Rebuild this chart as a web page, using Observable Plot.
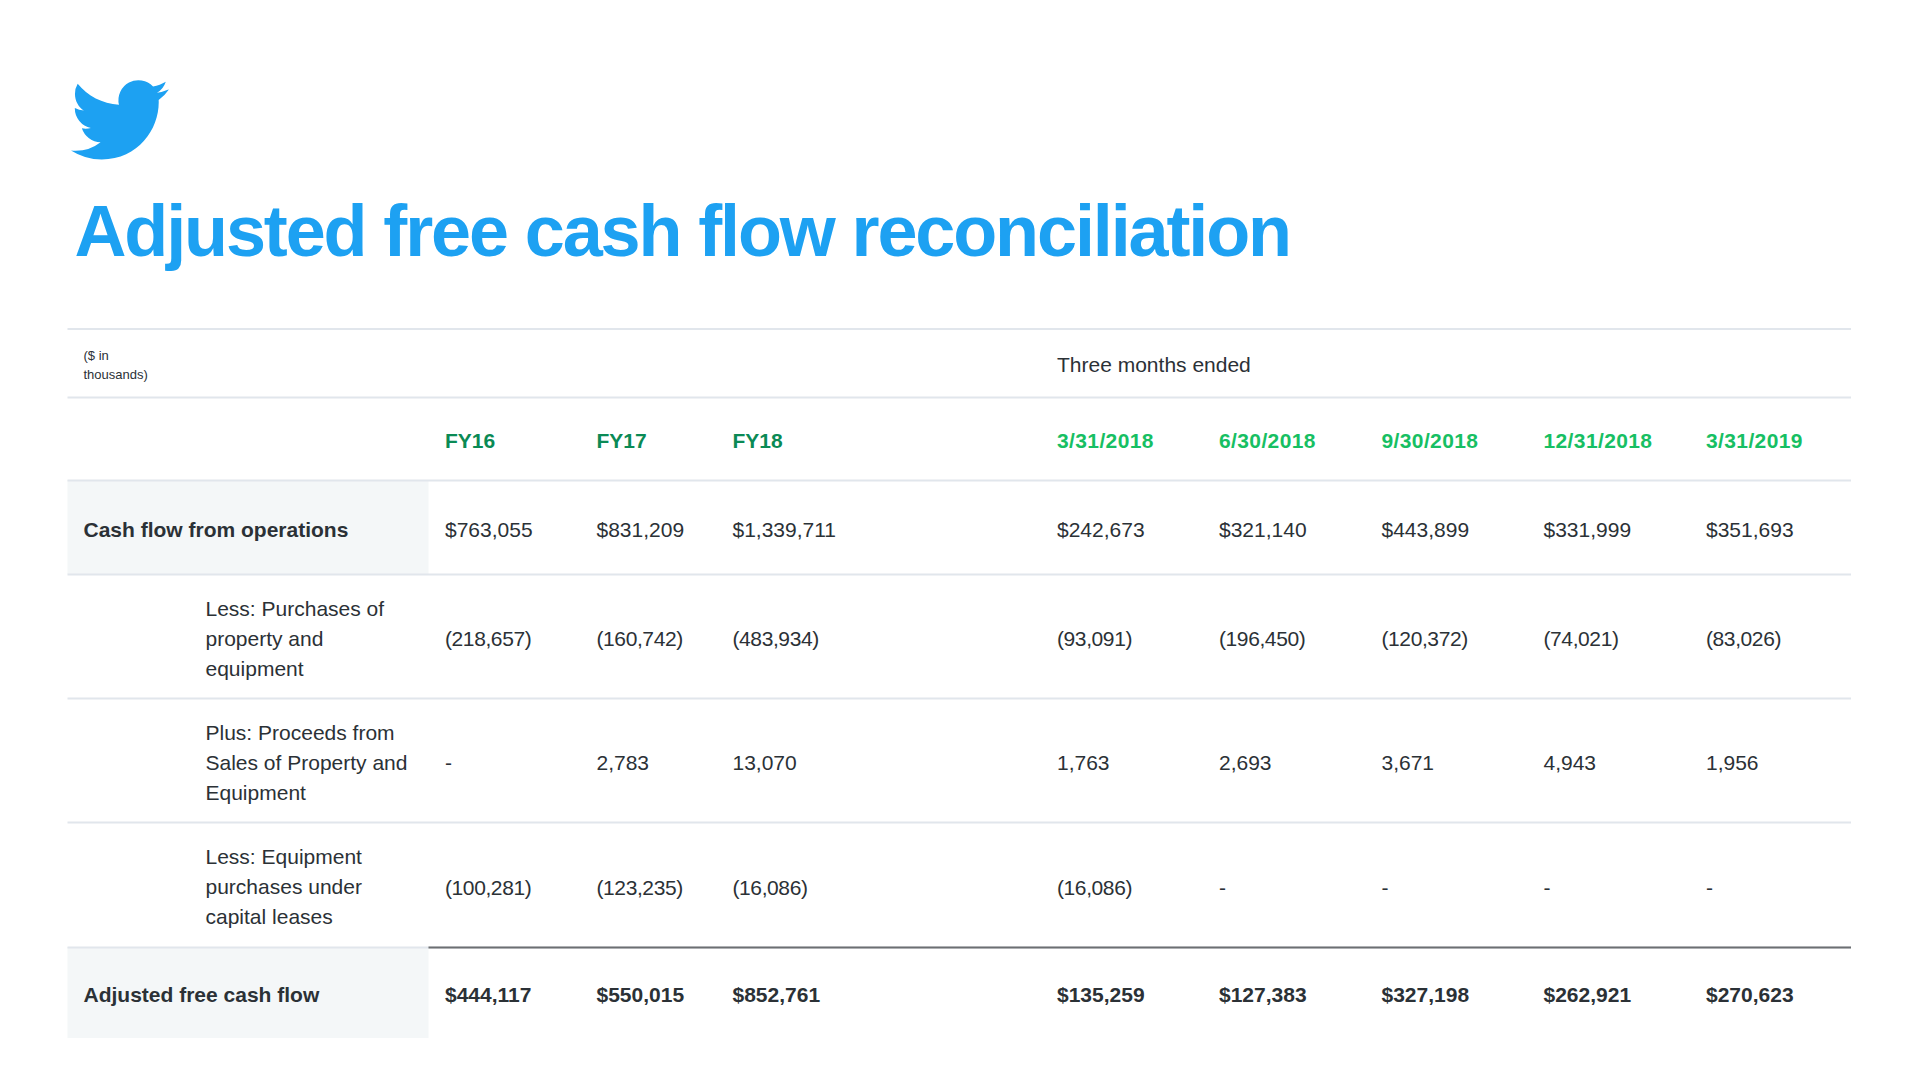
<!DOCTYPE html>
<html>
<head>
<meta charset="utf-8">
<script src="https://cdn.jsdelivr.net/npm/d3@7"></script>
<script src="https://cdn.jsdelivr.net/npm/@observablehq/plot@0.6"></script>
<style>html,body{margin:0;padding:0;background:#fff}svg{display:block}</style>
</head>
<body>
<div id="chart"></div>
<script>
const titleText = "Adjusted free cash flow reconciliation";
const unitsNote = "($ in\nthousands)";
const spanHeader = "Three months ended";
const annualHeaders = ["FY16", "FY17", "FY18"];
const quarterHeaders = ["3/31/2018", "6/30/2018", "9/30/2018", "12/31/2018", "3/31/2019"];
const boldLabels = ["Cash flow from operations", "Adjusted free cash flow"];
const indentedLabels = [
  "Less: Purchases of\nproperty and\nequipment",
  "Plus: Proceeds from\nSales of Property and\nEquipment",
  "Less: Equipment\npurchases under\ncapital leases"
];
const cashFromOperations = ["$763,055", "$831,209", "$1,339,711", "$242,673", "$321,140", "$443,899", "$331,999", "$351,693"];
const purchases = ["(218,657)", "(160,742)", "(483,934)", "(93,091)", "(196,450)", "(120,372)", "(74,021)", "(83,026)"];
const proceeds = ["-", "2,783", "13,070", "1,763", "2,693", "3,671", "4,943", "1,956"];
const capitalLeases = ["(100,281)", "(123,235)", "(16,086)", "(16,086)", "-", "-", "-", "-"];
const adjustedFcf = ["$444,117", "$550,015", "$852,761", "$135,259", "$127,383", "$327,198", "$262,921", "$270,623"];

// Column slots: table edge, outer label, indented label, panel edge, 8 value columns, table edge
const C = {edge: 0, label: 1, indent: 2, panel: 3, first: 4, right: 12};
// Row slots: 0 units, 1 headers, 2..6 body rows, 7 bottom edge
const mid = i => i + 0.5;

const rowsData = [cashFromOperations, purchases, proceeds, capitalLeases, adjustedFcf];
const cells = rowsData.flatMap((vals, r) => vals.map((v, c) => ({v, c: C.first + c, r: 2 + r, bold: r === 4})));
const isParen = d => d.v.startsWith("(");
const regular = cells.filter(d => !d.bold && !isParen(d));
const parens = cells.filter(d => !d.bold && isParen(d));
const bold = cells.filter(d => d.bold);
const font = "Liberation Sans, Arial, sans-serif";
const ink = "#2b3136";
const base = {fontFamily: font, textAnchor: "start", lineAnchor: "middle"};

const spaced = ls => (index, scales, values, dims, ctx, next) => {
  const g = next(index, scales, values, dims, ctx);
  g.setAttribute("letter-spacing", ls);
  return g;
};

const bird = () => {
  const p = document.createElementNS("http://www.w3.org/2000/svg", "path");
  p.setAttribute("d", "M23.953 4.57a10 10 0 01-2.825.775 4.958 4.958 0 002.163-2.723c-.951.555-2.005.959-3.127 1.184a4.92 4.92 0 00-8.384 4.482C7.69 8.095 4.067 6.13 1.64 3.162a4.822 4.822 0 00-.666 2.475c0 1.71.87 3.213 2.188 4.096a4.904 4.904 0 01-2.228-.616v.06a4.923 4.923 0 003.946 4.827 4.996 4.996 0 01-2.212.085 4.936 4.936 0 004.604 3.417 9.867 9.867 0 01-6.102 2.105c-.39 0-.779-.023-1.17-.067a13.995 13.995 0 007.557 2.209c9.053 0 13.998-7.496 13.998-13.985 0-.21 0-.42-.015-.63A9.935 9.935 0 0024 4.59z");
  p.setAttribute("fill", "#1da1f2");
  p.setAttribute("transform", "translate(71 71) scale(4.07)");
  return p;
};

const chart = Plot.plot({
  width: 1920,
  height: 1080,
  margin: 0,
  style: {background: "#fff", overflow: "visible"},
  x: {
    type: "linear",
    domain: [0, 1, 2, 3, 4, 5, 6, 7, 8, 9, 10, 11, 12],
    range: [67.5, 83, 205, 428.5, 444.5, 596, 732, 1056.5, 1218.5, 1381, 1543, 1705.5, 1851],
    axis: null
  },
  y: {
    type: "linear",
    domain: [0, 1, 2, 3, 4, 5, 6, 7],
    range: [328.5, 397, 480, 574, 698, 822, 947, 1038],
    axis: null
  },
  marks: [
    bird,
    Plot.text([titleText], {text: d => d, frameAnchor: "top-left", dx: 74, dy: 232, lineAnchor: "middle",
      fontFamily: font, fontWeight: 700, fontSize: 72, fill: "#1da1f2", textAnchor: "start", render: spaced("-2.13")}),
    // shaded label panels
    Plot.rectY([2, 6], {x1: C.edge, x2: C.panel, y1: d => d, y2: d => d + 1, fill: "#f4f7f8"}),
    // rules
    Plot.ruleY([0, 1, 2, 3, 4, 5, 6], {x1: C.edge, x2: C.right, stroke: "#e1e6ec", strokeWidth: 2}),
    Plot.ruleY([6], {x1: C.panel, x2: C.right, stroke: "#6c6f72", strokeWidth: 2}),
    // header
    Plot.text([unitsNote], {...base, text: d => d, x: C.label, y: mid(0), fontSize: 13, lineHeight: 1.45, fill: ink, dy: 0}),
    Plot.text([spanHeader], {...base, text: d => d, x: C.first + 3, y: mid(0), fontSize: 21, fill: ink, dy: 2}),
    Plot.text(annualHeaders, {...base, text: d => d, x: (d, i) => C.first + i, y: mid(1), fontSize: 21, fontWeight: 700, fill: "#0a8a55", dy: 2}),
    Plot.text(quarterHeaders, {...base, text: d => d, x: (d, i) => C.first + 3 + i, y: mid(1), fontSize: 21, fontWeight: 700, fill: "#17bf63", dy: 2, render: spaced("0.38")}),
    // row labels
    Plot.text(boldLabels, {...base, text: d => d, x: C.label, y: (d, i) => mid(i === 0 ? 2 : 6),
      fontSize: 21, fontWeight: 700, fill: ink, dy: 2.5}),
    Plot.text(indentedLabels, {...base, text: d => d, x: C.indent, y: (d, i) => mid(3 + i),
      fontSize: 21, lineHeight: 1.43, fill: ink, dy: -0.5}),
    // values
    Plot.text(regular, {...base, text: "v", x: "c", y: d => mid(d.r), fontSize: 21, fill: ink, dy: 3}),
    Plot.text(parens, {...base, text: "v", x: "c", y: d => mid(d.r), fontSize: 21, fill: ink, dy: 3, render: spaced("-0.4")}),
    Plot.text(bold, {...base, text: "v", x: "c", y: d => mid(d.r), fontSize: 21, fontWeight: 700, fill: ink, dy: 2.5})
  ]
});
document.getElementById("chart").append(chart);
</script>
</body>
</html>
